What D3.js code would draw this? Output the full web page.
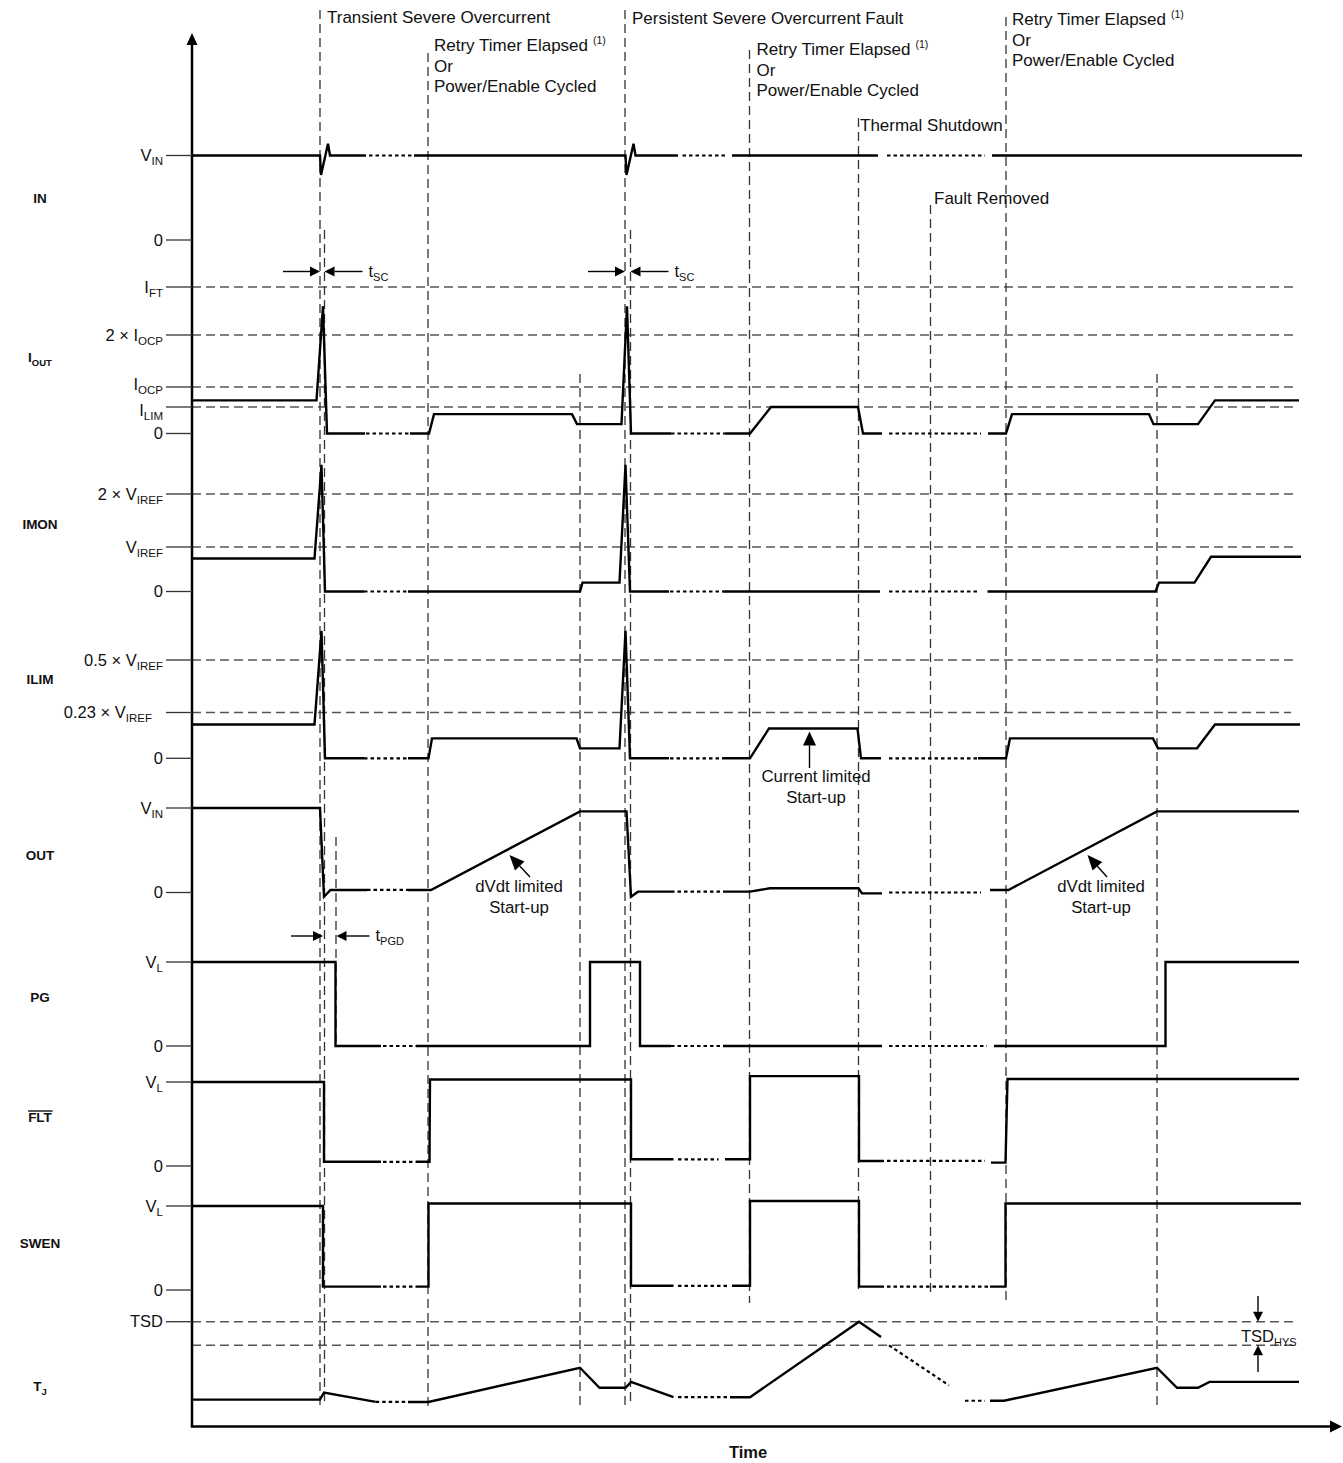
<!DOCTYPE html>
<html>
<head>
<meta charset="utf-8">
<script src="https://cdn.jsdelivr.net/npm/d3@7"></script>
<style>
  body { margin: 0; background: #fff; }
  svg { display: block; }
  text { font-family: "Liberation Sans", Arial, Helvetica, sans-serif; fill: #111; }
</style>
</head>
<body>
<svg id="chart" width="1343" height="1463"></svg>
<script>
// ---------------------------------------------------------------
// Timing data (time in arbitrary units, values in level units)
// ---------------------------------------------------------------
const timeExtent = [0, 115];

// event instants marked by vertical guides
const events = {
  transient: 12.8, transientSC: 13.25, pgDelay: 14.4, retry1: 23.6, pgRise1: 38.8,
  persistent: 43.3, persistentSC: 43.85, retry2: 55.75, thermal: 66.65,
  faultRemoved: 73.85, retry3: 81.4, pgRise2: 96.5
};

// level sets of each signal (the tick values of each row)
const inLevels   = [0, 1];                 // 0, VIN
const ioutLevels = [0, 0.85, 1, 2, 3];     // 0, ILIM, IOCP, 2×IOCP, IFT
const imonLevels = [0, 1, 2];              // 0, VIREF, 2×VIREF
const ilimLevels = [0, 0.23, 0.5];         // × VIREF
const outLevels  = [0, 1];                 // 0, VIN
const pgLevels   = [0, 1];                 // 0, VL
const fltLevels  = [0, 1];
const swenLevels = [0, 1];
const tjLevels   = [0.8, 1];               // TSD − TSD_HYS, TSD

// tick labels: [value, text, subscript]
const inTicks   = [[1, "V", "IN"], [0, "0"]];
const ioutTicks = [[3, "I", "FT"], [2, "2 × I", "OCP"], [1, "I", "OCP"], [0.85, "I", "LIM"], [0, "0"]];
const imonTicks = [[2, "2 × V", "IREF"], [1, "V", "IREF"], [0, "0"]];
const ilimTicks = [[0.5, "0.5 × V", "IREF"], [0.23, "0.23 × V", "IREF"], [0, "0"]];
const outTicks  = [[1, "V", "IN"], [0, "0"]];
const pgTicks   = [[1, "V", "L"], [0, "0"]];
const fltTicks  = [[1, "V", "L"], [0, "0"]];
const swenTicks = [[1, "V", "L"], [0, "0"]];
const tjTicks   = [[1, "TSD"]];

// dashed threshold levels: [value, end time]
const ioutRefs = [[3, 110.6], [2, 110.6], [1, 110.6], [0.85, 110.6]];
const imonRefs = [[2, 110.6], [1, 110.6]];
const ilimRefs = [[0.5, 110.6], [0.23, 109.9]];
const tjRefs   = [[1, 110.6], [0.8, 110.6]];

// traces: runs of ["s" solid | "d" dotted (time break), [[t, v], ...]]
const inTrace = [
  ["s", [[0, 1], [12.8, 1], [12.9, 0.77], [13.6, 1.14], [13.8, 1], [17.4, 1]]],
  ["d", [[17.7, 1], [22.2, 1]]],
  ["s", [[22.2, 1], [43.35, 1], [43.45, 0.77], [44.15, 1.14], [44.35, 1], [48.6, 1]]],
  ["d", [[49.05, 1], [53.3, 1]]],
  ["s", [[54.0, 1], [68.6, 1]]],
  ["d", [[69.5, 1], [79.3, 1]]],
  ["s", [[80.0, 1], [111.0, 1]]]
];
const ioutTrace = [
  ["s", [[0, 0.9], [12.45, 0.9], [13.1, 2.6], [13.5, 0], [17.3, 0]]],
  ["d", [[17.4, 0], [21.8, 0]]],
  ["s", [[21.8, 0], [23.7, 0], [24.2, 0.62], [38.0, 0.62], [38.5, 0.3], [42.95, 0.3], [43.5, 2.6], [43.9, 0], [47.9, 0]]],
  ["d", [[47.9, 0], [53.3, 0]]],
  ["s", [[53.3, 0], [55.8, 0], [57.9, 0.85], [66.6, 0.85], [67.1, 0], [69.0, 0]]],
  ["d", [[69.7, 0], [78.9, 0]]],
  ["s", [[79.6, 0], [81.4, 0], [82.0, 0.62], [95.7, 0.62], [96.15, 0.3], [100.6, 0.3], [102.3, 0.9], [110.7, 0.9]]]
];
const imonTrace = [
  ["s", [[0, 0.74], [12.25, 0.74], [12.95, 2.55], [13.3, 0], [17.2, 0]]],
  ["d", [[17.2, 0], [21.6, 0]]],
  ["s", [[21.6, 0], [38.8, 0], [39.05, 0.2], [42.75, 0.2], [43.35, 2.55], [43.8, 0], [47.7, 0]]],
  ["d", [[47.8, 0], [53.1, 0]]],
  ["s", [[53.1, 0], [68.8, 0]]],
  ["d", [[69.7, 0], [78.7, 0]]],
  ["s", [[79.55, 0], [96.35, 0], [96.7, 0.2], [100.25, 0.2], [101.9, 0.78], [110.9, 0.78]]]
];
const ilimTrace = [
  ["s", [[0, 0.17], [12.25, 0.17], [12.95, 0.65], [13.3, 0], [17.2, 0]]],
  ["d", [[17.2, 0], [21.6, 0]]],
  ["s", [[21.6, 0], [23.65, 0], [24.0, 0.1], [38.45, 0.1], [38.8, 0.05], [42.75, 0.05], [43.35, 0.65], [43.8, 0], [47.7, 0]]],
  ["d", [[47.8, 0], [53.1, 0]]],
  ["s", [[53.1, 0], [55.8, 0], [57.7, 0.15], [66.55, 0.15], [66.9, 0], [68.9, 0]]],
  ["d", [[69.7, 0], [78.6, 0]]],
  ["s", [[78.6, 0], [81.4, 0], [81.8, 0.1], [96.1, 0.1], [96.6, 0.05], [100.5, 0.05], [102.3, 0.17], [110.8, 0.17]]]
];
const outTrace = [
  ["s", [[0, 1], [12.8, 1], [13.2, -0.05], [13.85, 0.03], [17.5, 0.03]]],
  ["d", [[17.5, 0.03], [21.6, 0.03]]],
  ["s", [[21.6, 0.03], [23.9, 0.03], [38.8, 0.96], [43.45, 0.96], [43.9, -0.05], [44.6, 0.01], [47.9, 0.01]]],
  ["d", [[47.9, 0.01], [53.3, 0.01]]],
  ["s", [[53.3, 0.01], [55.8, 0.01], [57.8, 0.05], [66.65, 0.05], [67.0, -0.01], [69.0, -0.01]]],
  ["d", [[69.7, 0], [78.9, 0]]],
  ["s", [[79.8, 0.03], [81.65, 0.03], [96.5, 0.96], [110.7, 0.96]]]
];
const pgTrace = [
  ["s", [[0, 1], [14.35, 1], [14.35, 0], [18.9, 0]]],
  ["d", [[19.1, 0], [22.4, 0]]],
  ["s", [[22.4, 0], [39.8, 0], [39.8, 1], [44.8, 1], [44.8, 0], [47.9, 0]]],
  ["d", [[47.9, 0], [53.0, 0]]],
  ["s", [[53.1, 0], [69.0, 0]]],
  ["d", [[69.7, 0], [79.5, 0]]],
  ["s", [[80.2, 0], [97.35, 0], [97.35, 1], [110.7, 1]]]
];
const fltTrace = [
  ["s", [[0, 1], [13.2, 1], [13.2, 0.05], [18.9, 0.05]]],
  ["d", [[19.1, 0.05], [22.4, 0.05]]],
  ["s", [[22.4, 0.05], [23.75, 0.05], [23.8, 1.03], [43.9, 1.03], [43.9, 0.08], [48.15, 0.08]]],
  ["d", [[48.6, 0.08], [52.65, 0.08]]],
  ["s", [[53.3, 0.08], [55.8, 0.08], [55.8, 1.07], [66.7, 1.07], [66.7, 0.06], [69.2, 0.06]]],
  ["d", [[69.5, 0.06], [79.3, 0.06]]],
  ["s", [[79.9, 0.04], [81.35, 0.04], [81.55, 1.035], [110.7, 1.035]]]
];
const swenTrace = [
  ["s", [[0, 1], [13.1, 1], [13.1, 0.04], [18.9, 0.04]]],
  ["d", [[19.1, 0.04], [22.4, 0.04]]],
  ["s", [[22.4, 0.04], [23.65, 0.04], [23.65, 1.03], [43.9, 1.03], [43.9, 0.05], [48.15, 0.05]]],
  ["d", [[48.6, 0.05], [53.8, 0.05]]],
  ["s", [[54.0, 0.05], [55.8, 0.05], [55.8, 1.06], [66.7, 1.06], [66.7, 0.04], [69.2, 0.04]]],
  ["d", [[69.5, 0.04], [79.8, 0.04]]],
  ["s", [[79.8, 0.04], [81.35, 0.04], [81.35, 1.03], [110.9, 1.03]]]
];
const tjTrace = [
  ["s", [[0, 0.34], [12.8, 0.34], [13.2, 0.40], [18.37, 0.32]]],
  ["d", [[18.37, 0.32], [21.6, 0.32]]],
  ["s", [[21.6, 0.32], [23.65, 0.32], [38.8, 0.61], [40.75, 0.44], [43.35, 0.44], [43.9, 0.49], [48.15, 0.36]]],
  ["d", [[48.6, 0.36], [53.8, 0.36]]],
  ["s", [[53.8, 0.36], [55.8, 0.36], [66.7, 1.0], [68.9, 0.87]]],
  ["d", [[69.7, 0.80], [75.7, 0.46]]],
  ["d", [[77.3, 0.33], [79.3, 0.33]]],
  ["s", [[79.8, 0.33], [81.2, 0.33], [96.5, 0.61], [98.5, 0.44], [100.6, 0.44], [101.75, 0.49], [110.7, 0.49]]]
];

// ---------------------------------------------------------------
// Layout
// ---------------------------------------------------------------
const W = 1343, H = 1463;
const axisX = 192, axisBottom = 1426.5, axisTop = 33;
const rowPx = {
  IN:   [240, 155.5],
  IOUT: [433.5, 407, 387, 335, 287],
  IMON: [591.5, 547, 494],
  ILIM: [758.3, 712.5, 660],
  OUT:  [892.5, 808],
  PG:   [1046, 962],
  FLT:  [1166, 1082],
  SWEN: [1290, 1206],
  TJ:   [1345.3, 1321.7]
};
// vertical guide extents (px)
const guideSpan = {
  transient: [10, 1406], transientSC: [230, 1406], pgDelay: [837, 1046], retry1: [53, 1406],
  pgRise1: [374, 1406], persistent: [10, 1406], persistentSC: [230, 1406], retry2: [50, 1303],
  thermal: [118, 1293], faultRemoved: [205, 1296], retry3: [17, 1302], pgRise2: [374, 1406]
};

const rows = [
  { key: "IN",   levels: inLevels,   ticks: inTicks,   refs: [],       trace: inTrace,   name: ["IN"],       labelY: 198 },
  { key: "IOUT", levels: ioutLevels, ticks: ioutTicks, refs: ioutRefs, trace: ioutTrace, name: ["I", "OUT"], labelY: 357 },
  { key: "IMON", levels: imonLevels, ticks: imonTicks, refs: imonRefs, trace: imonTrace, name: ["IMON"],     labelY: 524 },
  { key: "ILIM", levels: ilimLevels, ticks: ilimTicks, refs: ilimRefs, trace: ilimTrace, name: ["ILIM"],     labelY: 679 },
  { key: "OUT",  levels: outLevels,  ticks: outTicks,  refs: [],       trace: outTrace,  name: ["OUT"],      labelY: 855 },
  { key: "PG",   levels: pgLevels,   ticks: pgTicks,   refs: [],       trace: pgTrace,   name: ["PG"],       labelY: 997 },
  { key: "FLT",  levels: fltLevels,  ticks: fltTicks,  refs: [],       trace: fltTrace,  name: ["FLT"],      labelY: 1117, bar: true },
  { key: "SWEN", levels: swenLevels, ticks: swenTicks, refs: [],       trace: swenTrace, name: ["SWEN"],     labelY: 1243 },
  { key: "TJ",   levels: tjLevels,   ticks: tjTicks,   refs: tjRefs,   trace: tjTrace,   name: ["T", "J"],   labelY: 1386 }
];

const x = d3.scaleLinear().domain(timeExtent).range([axisX, W - 1]);
rows.forEach(r => { r.y = d3.scaleLinear().domain(r.levels).range(rowPx[r.key]); });

const svg = d3.select("#chart");
const gRef = svg.append("g");
const gGuide = svg.append("g");
const gTrace = svg.append("g");
const gAxis = svg.append("g");
const gText = svg.append("g");

// small helper for text with an optional subscript
function subText(g, px, py, main, sub, opts = {}) {
  const t = g.append("text").attr("x", px).attr("y", py)
    .attr("text-anchor", opts.anchor || "start")
    .attr("font-size", opts.size || 16)
    .attr("font-weight", opts.bold ? "bold" : null);
  t.append("tspan").text(main);
  if (sub) t.append("tspan").attr("font-size", opts.subSize || 11).attr("dy", 4).text(sub);
  return t;
}

// filled arrow from tail to tip
function arrow(g, x1, y1, x2, y2, len = 10, hw = 5) {
  const a = Math.atan2(y2 - y1, x2 - x1);
  const bx = x2 - len * Math.cos(a), by = y2 - len * Math.sin(a);
  g.append("line").attr("x1", x1).attr("y1", y1).attr("x2", bx).attr("y2", by)
    .attr("stroke", "#000").attr("stroke-width", 1.4);
  const nx = -Math.sin(a) * hw, ny = Math.cos(a) * hw;
  g.append("path")
    .attr("d", `M${x2},${y2}L${bx + nx},${by + ny}L${bx - nx},${by - ny}Z`)
    .attr("fill", "#000");
}

// dashed threshold lines
rows.forEach(r => {
  r.refs.forEach(([v, tEnd]) => {
    gRef.append("line")
      .attr("x1", axisX).attr("x2", x(tEnd))
      .attr("y1", r.y(v)).attr("y2", r.y(v))
      .attr("stroke", "#555").attr("stroke-width", 1.5)
      .attr("stroke-dasharray", "9,5");
  });
});

// vertical event guides
Object.entries(events).forEach(([k, t]) => {
  const [y0, y1] = guideSpan[k];
  gGuide.append("line")
    .attr("x1", x(t)).attr("x2", x(t)).attr("y1", y0).attr("y2", y1)
    .attr("stroke", "#333").attr("stroke-width", 1.3)
    .attr("stroke-dasharray", "9,5");
});

// signal traces
rows.forEach(r => {
  const line = d3.line().x(d => x(d[0])).y(d => r.y(d[1]));
  r.trace.forEach(([style, pts]) => {
    gTrace.append("path")
      .attr("d", line(pts))
      .attr("fill", "none")
      .attr("stroke", "#000")
      .attr("stroke-width", style === "s" ? 2.4 : 2.2)
      .attr("stroke-linejoin", "miter")
      .attr("stroke-dasharray", style === "s" ? null : "3.5,3");
  });
});

// axes
gAxis.append("line").attr("x1", axisX).attr("x2", axisX).attr("y1", axisBottom).attr("y2", axisTop + 10)
  .attr("stroke", "#000").attr("stroke-width", 2.5);
gAxis.append("path").attr("d", `M${axisX},${axisTop}L${axisX - 5.5},${axisTop + 12}L${axisX + 5.5},${axisTop + 12}Z`).attr("fill", "#000");
gAxis.append("line").attr("x1", axisX - 1.2).attr("x2", x(timeExtent[1]) - 10).attr("y1", axisBottom).attr("y2", axisBottom)
  .attr("stroke", "#000").attr("stroke-width", 2.5);
gAxis.append("path").attr("d", `M${x(timeExtent[1])},${axisBottom}L${x(timeExtent[1]) - 12},${axisBottom - 6}L${x(timeExtent[1]) - 12},${axisBottom + 6}Z`).attr("fill", "#000");

// tick marks and tick labels
const tickShift = { "IOUT:1": -3, "IOUT:0.85": 3 };
const tickDx = { "ILIM:0.23": -11 };
rows.forEach(r => {
  r.ticks.forEach(([v, main, sub]) => {
    const yy = r.y(v);
    gAxis.append("line").attr("x1", 166).attr("x2", axisX).attr("y1", yy).attr("y2", yy)
      .attr("stroke", "#333").attr("stroke-width", 1.3);
    const id = r.key + ":" + v;
    subText(gText, 163 + (tickDx[id] || 0), yy + 5.5 + (tickShift[id] || 0), main, sub, { anchor: "end", size: 16.5, subSize: 11.5 });
  });
});

// row names
rows.forEach(r => {
  const t = subText(gText, 40, r.labelY + 5, r.name[0], r.name[1], { anchor: "middle", size: 13.5, bold: true, subSize: 9.5 });
  if (r.bar) {
    const bb = t.node().getBBox();
    gText.append("line").attr("x1", bb.x).attr("x2", bb.x + bb.width)
      .attr("y1", bb.y + 1).attr("y2", bb.y + 1).attr("stroke", "#111").attr("stroke-width", 1.4);
  }
});

// event captions
function caption(t, dx, baselines, lines, note) {
  lines.forEach((s, i) => {
    const tx = gText.append("text").attr("x", x(t) + dx).attr("y", baselines[i]).attr("font-size", 17);
    tx.append("tspan").text(s);
    if (i === 0 && note) tx.append("tspan").attr("font-size", 10.5).attr("dx", 5).attr("dy", -7).text(note);
  });
}
caption(events.transient, 7, [23], ["Transient Severe Overcurrent"]);
caption(events.retry1, 6, [51, 72, 92], ["Retry Timer Elapsed", "Or", "Power/Enable Cycled"], "(1)");
caption(events.persistent, 7, [24], ["Persistent Severe Overcurrent Fault"]);
caption(events.retry2, 7, [54.5, 75.5, 95.5], ["Retry Timer Elapsed", "Or", "Power/Enable Cycled"], "(1)");
caption(events.thermal, 1.5, [131], ["Thermal Shutdown"]);
caption(events.faultRemoved, 3.5, [204], ["Fault Removed"]);
caption(events.retry3, 6, [24.5, 45.5, 66], ["Retry Timer Elapsed", "Or", "Power/Enable Cycled"], "(1)");

// tSC and tPGD interval markers
function interval(tA, tB, yy, label, sub, lead = 37) {
  const xa = x(tA), xb = x(tB);
  arrow(gText, xa - lead, yy, xa, yy, 10, 5);
  arrow(gText, xb + lead + 1, yy, xb, yy, 10, 5);
  subText(gText, xb + lead + 7, yy + 5, label, sub, { size: 16.5, subSize: 11 });
}
interval(events.transient, events.transientSC, 271.5, "t", "SC");
interval(events.persistent, events.persistentSC, 271.5, "t", "SC");
interval(events.transient + 0.3, events.pgDelay + 0.05, 936, "t", "PGD", 32);

// start-up notes
const rIlim = rows[3];
function note(cx, y1, lines) {
  lines.forEach((s, i) => gText.append("text").attr("x", cx).attr("y", y1 + i * 21)
    .attr("text-anchor", "middle").attr("font-size", 16.8).text(s));
}
arrow(gText, 530, 877, 509.5, 855, 15, 6.5);
note(519, 892, ["dVdt limited", "Start-up"]);
arrow(gText, 1107, 877, 1087.5, 855, 15, 6.5);
note(1101, 892, ["dVdt limited", "Start-up"]);
arrow(gText, 809.5, 768, 809.5, rIlim.y(0.15) + 3, 14, 6.5);
note(816, 782, ["Current limited", "Start-up"]);

// TSD hysteresis marker
const rTj = rows[8];
arrow(gText, 1258, 1296, 1258, rTj.y(1), 10, 5);
arrow(gText, 1258, 1372, 1258, rTj.y(0.8), 10, 5);
subText(gText, 1241, 1342, "TSD", "HYS", { size: 16.5, subSize: 11 });

// time axis title
gText.append("text").attr("x", 748).attr("y", 1458).attr("text-anchor", "middle")
  .attr("font-size", 16.5).attr("font-weight", "bold").text("Time");
</script>
</body>
</html>
